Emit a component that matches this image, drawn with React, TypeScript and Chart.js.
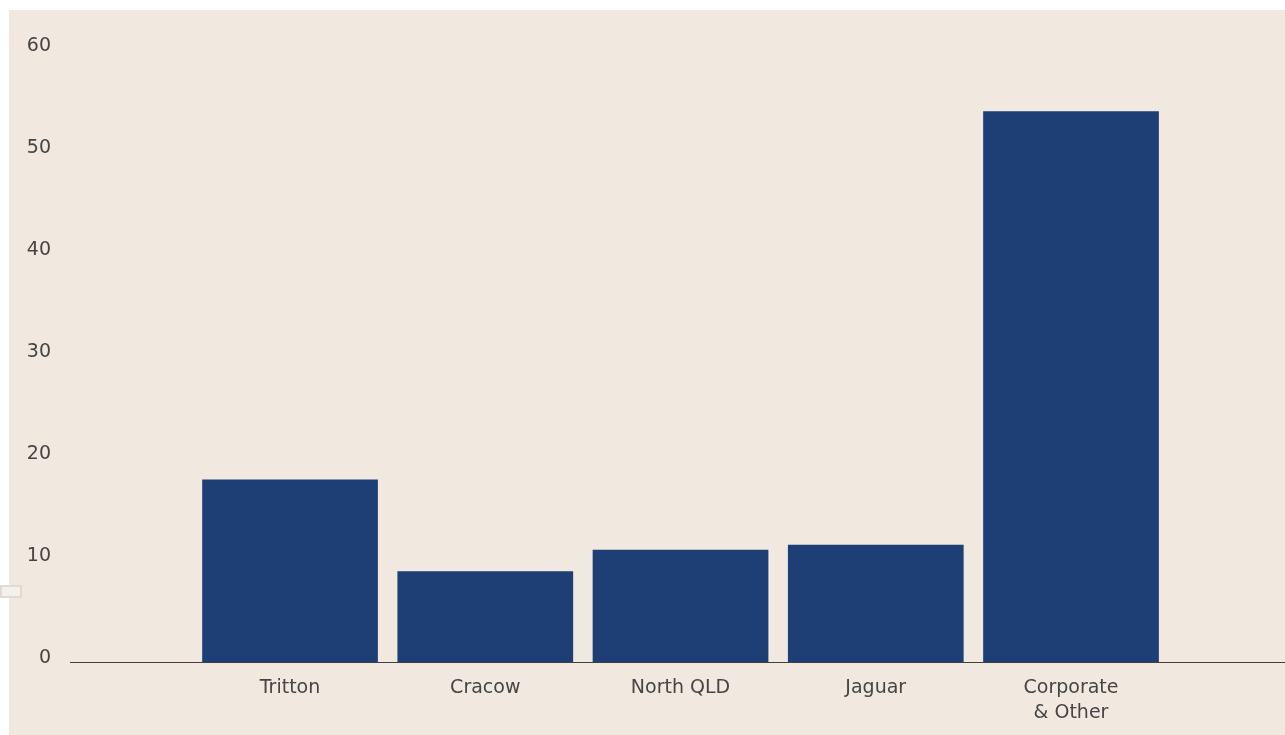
import React, { useEffect, useRef } from "react";
import { Chart, registerables } from "chart.js";

Chart.register(...registerables);

const categories: (string | string[])[] = ["Tritton", "Cracow", "North QLD", "Jaguar", ["Corporate", "& Other"]];
const values: number[] = [17.9, 8.9, 11.0, 11.5, 54.0];
const yTicks: number[] = [0, 10, 20, 30, 40, 50, 60];

const BG = "#f1e8df";
const BAR = "#1d3f75";
const TEXT = "#454545";
const FONT = "'DejaVu Sans', sans-serif";

export default function App() {
  const ref = useRef<HTMLCanvasElement | null>(null);

  useEffect(() => {
    if (!ref.current) return;
    const chart = new Chart(ref.current, {
      type: "bar",
      data: {
        datasets: [
          {
            data: values.map((v, i) => ({ x: i, y: v })),
            backgroundColor: BAR,
            borderWidth: 0,
            categoryPercentage: 0.9,
            barPercentage: 1,
          },
        ],
      },
      options: {
        animation: false,
        responsive: false,
        maintainAspectRatio: false,
        layout: { padding: { top: 40, right: 0, left: 0, bottom: 0 } },
        plugins: { legend: { display: false }, tooltip: { enabled: false } },
        scales: {
          x: {
            type: "linear",
            offset: false,
            min: -1.127,
            max: 5.096,
            grid: { display: false, drawTicks: false, offset: false },
            border: { display: true, color: "#404040", width: 1 },
            afterBuildTicks: (axis: any) => {
              axis.ticks = categories.map((_, i) => ({ value: i }));
            },
            afterFit: (s: any) => {
              s.height = 73;
            },
            ticks: {
              autoSkip: false,
              maxRotation: 0,
              padding: 14,
              color: TEXT,
              font: { family: FONT, size: 19, lineHeight: 1.3 },
              callback: (v: any) => {
                const i = Math.round(Number(v));
                return categories[i] ?? "";
              },
            },
          },
          y: {
            min: 0,
            max: 60,
            grid: { display: false, drawTicks: false },
            border: { display: false },
            afterBuildTicks: (axis: any) => {
              axis.ticks = yTicks.map((v) => ({ value: v }));
            },
            afterFit: (s: any) => {
              s.width = 61;
            },
            ticks: {
              padding: 19,
              labelOffset: -4,
              color: TEXT,
              font: { family: FONT, size: 19 },
            },
          },
        },
      },
    });
    return () => chart.destroy();
  }, []);

  return (
    <>
      <div
        style={{
          position: "fixed",
          left: 0,
          top: 585,
          width: 22,
          height: 13,
          boxSizing: "border-box",
          border: "2px solid #dedad5",
          background: "#f4f0eb",
          zIndex: 2,
        }}
      />
      <div
        style={{
          position: "fixed",
          left: 9,
          top: 10,
          width: 1276,
          height: 725,
          background: BG,
        }}
      >
        <canvas ref={ref} width={1276} height={725} style={{ display: "block" }} />
      </div>
    </>
  );
}
